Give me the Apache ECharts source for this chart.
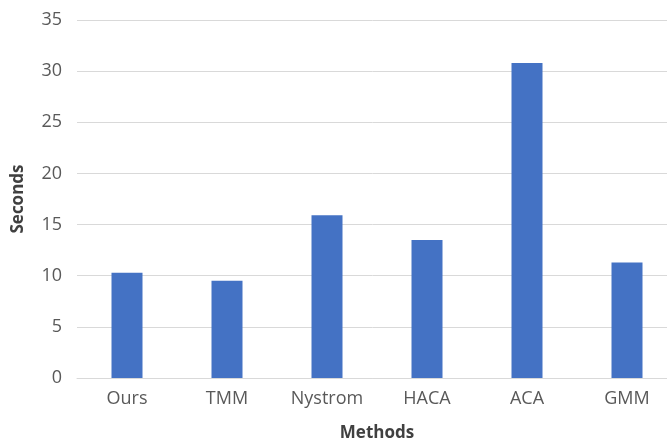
<!DOCTYPE html>
<html>
<head>
<meta charset="utf-8">
<script src="https://cdn.jsdelivr.net/npm/echarts@6/dist/echarts.min.js"></script>
<style>
  html, body { margin: 0; padding: 0; background: #fff; }
  #chart { width: 667px; height: 440px; }
</style>
</head>
<body>
<div id="chart"></div>
<script>
// Running time of each clustering method
const methods = ['Ours', 'TMM', 'Nystrom', 'HACA', 'ACA', 'GMM'];
const seconds = [10.3, 9.5, 15.9, 13.5, 30.8, 11.3];
const yTicks = { min: 0, max: 35, interval: 5 };

const chart = echarts.init(document.getElementById('chart'), null, { renderer: 'canvas' });
const labelFont = '"Open Sans", "Noto Sans", sans-serif';

chart.setOption({
  animation: false,
  backgroundColor: '#ffffff',
  grid: {
    left: 77, top: 20, width: 600, height: 358,
    containLabel: false,
    outerBoundsMode: 'none'
  },
  xAxis: {
    type: 'category',
    data: methods,
    name: 'Methods',
    nameLocation: 'middle',
    nameGap: 47,
    nameTextStyle: { color: '#404040', fontSize: 17, fontWeight: 'bold', fontFamily: labelFont },
    axisLine: { show: true, lineStyle: { color: '#d9d9d9', width: 1 } },
    axisTick: { show: false },
    axisLabel: { color: '#595959', fontSize: 18, margin: 12, fontFamily: labelFont }
  },
  yAxis: {
    type: 'value',
    min: yTicks.min,
    max: yTicks.max,
    interval: yTicks.interval,
    name: 'Seconds',
    nameLocation: 'middle',
    nameGap: 50,
    nameRotate: 90,
    nameTextStyle: { color: '#404040', fontSize: 17, fontWeight: 'bold', fontFamily: labelFont },
    axisLine: { show: false },
    axisTick: { show: false },
    axisLabel: { color: '#595959', fontSize: 18, margin: 15, fontFamily: labelFont },
    splitLine: { show: true, lineStyle: { color: '#d9d9d9', width: 1 } }
  },
  series: [{
    type: 'bar',
    data: seconds,
    barWidth: 31,
    itemStyle: { color: '#4472c4' }
  }]
});
</script>
</body>
</html>
